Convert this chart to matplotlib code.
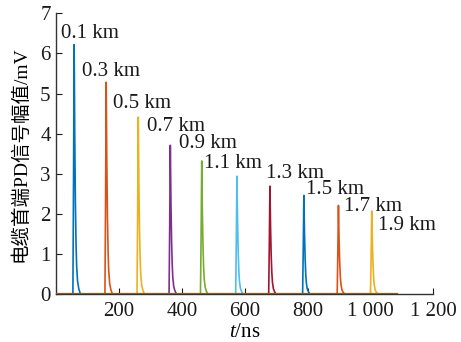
import matplotlib
matplotlib.use("Agg")

import matplotlib.pyplot as plt

plt.rcParams["font.family"] = ["Liberation Serif", "Noto Sans CJK SC"]
plt.rcParams["mathtext.fontset"] = "custom"
plt.rcParams["mathtext.it"] = "Liberation Serif:italic"
plt.rcParams["mathtext.rm"] = "Liberation Serif"

# данные
labels = ["0.1 km", "0.3 km", "0.5 km", "0.7 km", "0.9 km",
          "1.1 km", "1.3 km", "1.5 km", "1.7 km", "1.9 km"]
peak_t = [57, 159, 261, 363, 463, 575, 680, 788, 898, 1004]       # ns
peak_v = [6.22, 5.28, 4.41, 3.71, 3.32, 2.94, 2.69, 2.46, 2.21, 2.07]  # mV

# форма импульса (относительно пика)
shape_dt = [-4, -2, 0, 2, 4, 6, 8, 11, 15, 20]
shape_v = [0, 0.45, 1, 0.62, 0.36, 0.2, 0.11, 0.05, 0.02, 0]

t_end = 1084
colors = ["#0072BD", "#D95319", "#EDB120", "#7E2F8E", "#77AC30",
          "#4DBEEE", "#A2142F"]

# сдвиги подписей в пикселях (dx, dy) от пика, центр текста
label_off = [(-13, 11), (-24, 11), (-25, 14), (-23, 19), (-23, 17),
             (-33, 13), (-4, 13), (2, 6), (6, -1), (6, -14)]

fig = plt.figure(figsize=(4.61, 3.42), dpi=100)
ax = fig.add_axes([0.122, 0.140, 0.818, 0.821])

for i in range(len(labels)):
    t = [0] + [peak_t[i] + d for d in shape_dt] + [t_end]
    v = [0] + [peak_v[i] * s for s in shape_v] + [0]
    ax.plot(t, v, color=colors[i % len(colors)], lw=1.2)

ax.plot([0, t_end], [0, 0], color="#8C5A1E", lw=1.6, zorder=3)

for i in range(len(labels)):
    dx, dy = label_off[i]
    ax.annotate(labels[i], (peak_t[i], peak_v[i]),
                xytext=(dx * 0.72, dy * 0.72), textcoords="offset points",
                fontsize=15, ha="left", va="center", color="#1a1a1a")

ax.set_xlim(0, 1200)
ax.set_ylim(0, 7)
ax.set_xticks([200, 400, 600, 800, 1000, 1200])
ax.set_xticklabels(["200", "400", "600", "800", "1 000", "1 200"])
ax.set_yticks(range(8))

ax.spines["top"].set_visible(False)
ax.spines["right"].set_visible(False)
for s in ["left", "bottom"]:
    ax.spines[s].set_color("#333333")
    ax.spines[s].set_linewidth(1.0)
ax.tick_params(direction="in", length=4, labelsize=15, colors="#1a1a1a")
ax.tick_params(axis="x", pad=6)
ax.tick_params(axis="y", pad=4)

ax.set_xlabel("$t$/ns", fontsize=15, labelpad=1)
ax.set_ylabel("电缆首端PD信号幅值/mV", fontsize=14, labelpad=8)

fig.savefig("out.png", dpi=100, facecolor="white")
